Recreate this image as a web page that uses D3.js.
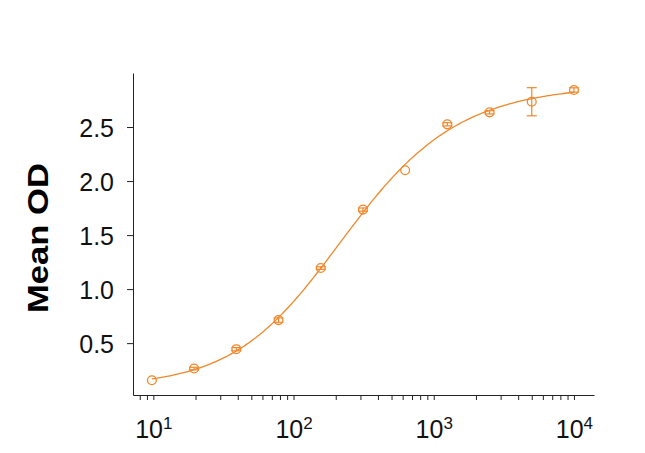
<!DOCTYPE html>
<html>
<head>
<meta charset="utf-8">
<script src="https://cdn.jsdelivr.net/npm/d3@7"></script>
<style>
  html, body { margin: 0; padding: 0; background: #fff; }
  svg { display: block; font-family: "Liberation Sans", Arial, sans-serif; }
</style>
</head>
<body>
<svg id="chart" width="645" height="453"></svg>
<script>
// ---- data ----
const concentrations = [9.766, 19.53, 39.06, 78.13, 156.3, 312.5, 625, 1250, 2500, 5000, 10000];
const meanOD = [0.157, 0.265, 0.444, 0.713, 1.195, 1.736, 2.10, 2.525, 2.636, 2.734, 2.843];
const sdOD = [0.0, 0.012, 0.015, 0.02, 0.012, 0.015, 0.0, 0.015, 0.015, 0.13, 0.02];
const yTicks = [0.5, 1.0, 1.5, 2.0, 2.5];
const xMajorExponents = [1, 2, 3, 4];
const yLabel = "Mean OD";

const color = "#F0872A";
const svg = d3.select("#chart");

const x = d3.scaleLog().domain([7.16, 13900]).range([133, 594]);
const y = d3.scaleLinear().domain([0.02, 3.0]).range([395, 73]);

// minor + major ticks for log axis
const xTickVals = [];
for (let e = 0; e <= 4; e++) {
  for (let m = 1; m <= 9; m++) {
    const v = m * Math.pow(10, e);
    if (v >= x.domain()[0] && v <= x.domain()[1]) xTickVals.push(v);
  }
}

const xAxis = svg.append("g")
  .attr("transform", "translate(0,395)")
  .call(d3.axisBottom(x).tickValues(xTickVals).tickSize(5).tickSizeOuter(0).tickFormat(() => ""));
xAxis.select(".domain").attr("stroke", "#222").attr("stroke-width", 1);
xAxis.selectAll(".tick line").attr("stroke", "#222").attr("stroke-width", 1);

xAxis.selectAll(".tick")
  .filter(d => xMajorExponents.some(e => Math.abs(Math.log10(d) - e) < 1e-9))
  .select("text")
  .attr("y", 0)
  .attr("dy", 43)
  .attr("fill", "#111")
  .attr("font-size", 25)
  .each(function(d) {
    const t = d3.select(this);
    t.text(null);
    t.append("tspan").text("10");
    t.append("tspan").attr("font-size", 17).attr("dy", -9).text(Math.round(Math.log10(d)));
  });

const yAxis = svg.append("g")
  .attr("transform", "translate(133,0)")
  .call(d3.axisLeft(y).tickValues(yTicks).tickSize(6).tickSizeOuter(0).tickPadding(13).tickFormat(d3.format(".1f")));
yAxis.select(".domain").attr("stroke", "#222").attr("stroke-width", 1);
yAxis.selectAll(".tick line").attr("stroke", "#222").attr("stroke-width", 1);
yAxis.selectAll(".tick text").attr("font-size", 25).attr("fill", "#111").attr("dy", "0.36em");

svg.append("text")
  .attr("transform", "translate(48,238) rotate(-90)")
  .attr("text-anchor", "middle")
  .attr("font-size", 29)
  .attr("font-weight", "bold")
  .attr("fill", "#000")
  .attr("textLength", 150)
  .attr("lengthAdjust", "spacingAndGlyphs")
  .text(yLabel);

const data = concentrations.map((c, i) => ({ c, m: meanOD[i], s: sdOD[i] }));

// ---- 5-parameter logistic least-squares fit of the data (Nelder-Mead) ----
function model(p, c) {
  return p[1] + (p[0] - p[1]) / Math.pow(1 + Math.pow(c / Math.pow(10, p[2]), p[3]), Math.exp(p[4]));
}
function sse(p) {
  let s = 0;
  for (const d of data) { const r = model(p, d.c) - d.m; s += r * r; }
  return isFinite(s) ? s : 1e9;
}
function nelderMead(f, x0, steps, iters) {
  const n = x0.length;
  let simplex = [x0.slice()];
  for (let i = 0; i < n; i++) { const v = x0.slice(); v[i] += steps[i]; simplex.push(v); }
  let vals = simplex.map(f);
  for (let k = 0; k < iters; k++) {
    const idx = d3.range(n + 1).sort((a, b) => vals[a] - vals[b]);
    simplex = idx.map(i => simplex[i]); vals = idx.map(i => vals[i]);
    const cen = d3.range(n).map(j => d3.mean(simplex.slice(0, n), v => v[j]));
    const worst = simplex[n];
    const xr = cen.map((c, j) => c + (c - worst[j]));
    const fr = f(xr);
    if (fr < vals[0]) {
      const xe = cen.map((c, j) => c + 2 * (c - worst[j]));
      const fe = f(xe);
      if (fe < fr) { simplex[n] = xe; vals[n] = fe; } else { simplex[n] = xr; vals[n] = fr; }
    } else if (fr < vals[n - 1]) {
      simplex[n] = xr; vals[n] = fr;
    } else {
      const xc = cen.map((c, j) => c + 0.5 * (worst[j] - c));
      const fc = f(xc);
      if (fc < vals[n]) { simplex[n] = xc; vals[n] = fc; }
      else {
        for (let i = 1; i <= n; i++) {
          simplex[i] = simplex[i].map((v, j) => simplex[0][j] + 0.5 * (v - simplex[0][j]));
          vals[i] = f(simplex[i]);
        }
      }
    }
  }
  const best = d3.minIndex(vals);
  return simplex[best];
}
let p = [0.08, 3.0, Math.log10(230), 1.0, 0];
for (let r = 0; r < 4; r++) p = nelderMead(sse, p, [0.05, 0.2, 0.3, 0.3, 0.3], 3000);

const c0 = concentrations[0], c1 = concentrations[concentrations.length - 1];
const curvePts = d3.range(0, 201).map(i => {
  const c = Math.pow(10, Math.log10(c0) + (Math.log10(c1) - Math.log10(c0)) * i / 200);
  return [x(c), y(model(p, c))];
});
svg.append("path")
  .attr("d", d3.line()(curvePts))
  .attr("fill", "none")
  .attr("stroke", color)
  .attr("stroke-width", 1.3);

// error bars
const eb = svg.append("g").attr("stroke", color).attr("stroke-width", 1.2).attr("fill", "none");
data.filter(d => d.s > 0).forEach(d => {
  const cx = x(d.c);
  eb.append("line").attr("x1", cx).attr("x2", cx).attr("y1", y(d.m + d.s)).attr("y2", y(d.m - d.s));
  eb.append("line").attr("x1", cx - 5).attr("x2", cx + 5).attr("y1", y(d.m + d.s)).attr("y2", y(d.m + d.s));
  eb.append("line").attr("x1", cx - 5).attr("x2", cx + 5).attr("y1", y(d.m - d.s)).attr("y2", y(d.m - d.s));
});

// markers
svg.append("g").selectAll("circle")
  .data(data)
  .join("circle")
  .attr("cx", d => x(d.c))
  .attr("cy", d => y(d.m))
  .attr("r", 4.4)
  .attr("fill", "none")
  .attr("stroke", color)
  .attr("stroke-width", 1.3);
</script>
</body>
</html>
